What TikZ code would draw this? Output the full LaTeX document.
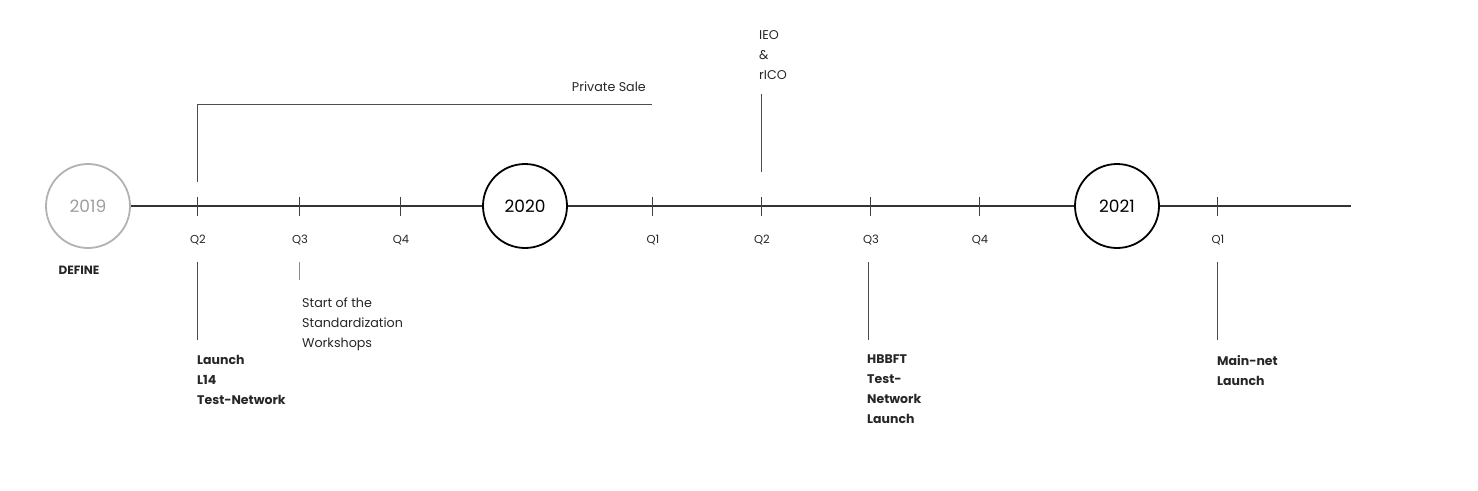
\documentclass[tikz,border=0pt]{standalone}
\usepackage{fontspec}
\setmainfont{Poppins}
\begin{document}
\begin{tikzpicture}[x=1pt,y=-1pt,
  mainline/.style={line width=1.6pt,draw=black!80},
  tick/.style={line width=0.8pt,draw=black!75},
  leader/.style={line width=0.8pt,draw=black!70},
  year/.style={circle,minimum size=84pt,inner sep=0pt,line width=1.8pt,font=\fontsize{17}{20}\selectfont},
  qlab/.style={font=\fontsize{11.5}{12}\selectfont,text=black!85},
  note/.style={anchor=north west,inner sep=0pt,align=left,font=\fontsize{12.7}{20}\selectfont,text=black!85},
  bnote/.style={note,font=\fontsize{12.5}{20}\selectfont\bfseries}]
\useasboundingbox (0,0) rectangle (1478,490);
% year circles
\node[year,draw=black!30,text=black!38] (c2019) at (88,206) {2019};
\node[year,draw=black] (c2020) at (525,206) {2020};
\node[year,draw=black] (c2021) at (1117,206) {2021};
\coordinate (lineend) at (1351,206);
\draw[mainline] (c2019.east) -- (c2020.west);
\draw[mainline] (c2020.east) -- (c2021.west);
\draw[mainline] (c2021.east) -- (lineend);
% ticks and quarter labels
\foreach \n/\x/\q in {a/197/Q2,b/299/Q3,c/400/Q4,d/652/Q1,e/761/Q2,f/870/Q3,g/979/Q4,h/1217/Q1}{
  \coordinate (t\n top) at (\x,197);
  \coordinate (t\n bot) at (\x,216);
  \draw[tick] (t\n top) -- (t\n bot);
  \node[qlab] (q\n) at (\x+1,240) {\q};
}
\node[font=\fontsize{12}{12}\selectfont\bfseries,text=black!85] (define) at (79,270) {DEFINE};
% private sale bracket
\coordinate (ps1) at (197,182);
\coordinate (ps2) at (197,104);
\coordinate (ps3) at (652,104);
\draw[leader] (ps1) -- (ps2) -- (ps3);
\node[anchor=east,inner sep=0pt,font=\fontsize{12.7}{14}\selectfont,text=black!85] (private) at (646,87) {Private Sale};
% IEO
\coordinate (ieo1) at (761,94);
\coordinate (ieo2) at (761,172);
\draw[leader] (ieo1) -- (ieo2);
\node[note] (ieo) at (759,30) {IEO\\\&\\rICO};
% Launch L14
\coordinate (l1) at (197,262);
\coordinate (l2) at (197,340);
\draw[leader] (l1) -- (l2);
\node[bnote] (launch) at (197,355) {Launch\\L14\\Test-Network};
% Standardization
\coordinate (s1) at (299,262);
\coordinate (s2) at (299,280);
\draw[leader,draw=black!45] (s1) -- (s2);
\node[note] (std) at (302,298) {Start of the\\Standardization\\Workshops};
% HBBFT
\coordinate (h1) at (868,262);
\coordinate (h2) at (868,340);
\draw[leader] (h1) -- (h2);
\node[bnote] (hbbft) at (867,355) {HBBFT\\Test-\\Network\\Launch};
% Main-net
\coordinate (m1) at (1217,262);
\coordinate (m2) at (1217,340);
\draw[leader] (m1) -- (m2);
\node[bnote] (mainnet) at (1217,355) {Main-net\\Launch};
\end{tikzpicture}
\end{document}
